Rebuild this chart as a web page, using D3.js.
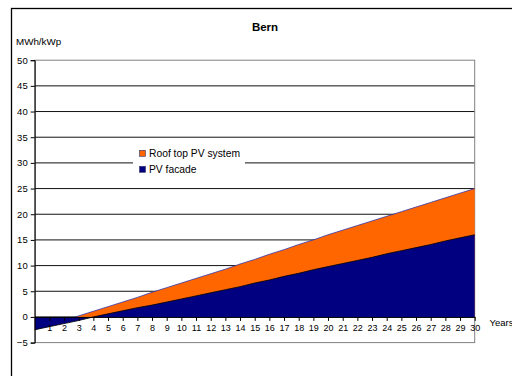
<!DOCTYPE html>
<html><head><meta charset="utf-8">
<script src="https://cdn.jsdelivr.net/npm/d3@7"></script>
<style>body{margin:0;background:#fff}svg{display:block}text{font-family:"Liberation Sans",Arial,sans-serif;fill:#000}</style>
</head><body>
<svg id="c" width="512" height="376"></svg>
<script>
const years = d3.range(0, 31);
const yearLabels = d3.range(1, 31);
const roofTop = [-2.5,-1.6,-0.7,0.2,1.1,2.0,2.9,3.8,4.8,5.7,6.6,7.5,8.4,9.3,10.3,11.2,12.2,13.1,14.1,15.0,16.0,16.9,17.8,18.7,19.6,20.5,21.4,22.3,23.2,24.1,25.0];
const facade = [-2.5,-1.9,-1.3,-0.7,0.0,0.6,1.2,1.8,2.3,2.9,3.5,4.1,4.7,5.3,5.9,6.6,7.2,7.9,8.5,9.2,9.8,10.4,11.0,11.6,12.3,12.9,13.5,14.1,14.8,15.4,16.0];
const yTicks = [-5,0,5,10,15,20,25,30,35,40,45,50];
const seriesNames = ["Roof top PV system","PV facade"];
const seriesColors = ["#ff6600","#000080"];

const svg = d3.select("#c");
const x = d3.scaleLinear().domain([0,30]).range([34.7,474.7]);
const y = d3.scaleLinear().domain([-5,50]).range([342.6,60.2]);

// outer chart border
svg.append("rect").attr("x",11.5).attr("y",8.5).attr("width",520).attr("height",400)
  .attr("fill","none").attr("stroke","#000").attr("stroke-width",1.3);

// gridlines
svg.append("g").selectAll("line").data(yTicks.filter(v=>v>-5 && v<50)).join("line")
  .attr("x1",x(0)).attr("x2",x(30)).attr("y1",d=>y(d)).attr("y2",d=>y(d))
  .attr("stroke","#111").attr("stroke-width",1);

// plot border
svg.append("rect").attr("x",x(0)).attr("y",y(50)).attr("width",x(30)-x(0)).attr("height",y(-5)-y(50))
  .attr("fill","none").attr("stroke","#808080").attr("stroke-width",1);

// areas
const area = vals => d3.area().x((d,i)=>x(years[i])).y0(y(0)).y1(d=>y(d))(vals);
const line = vals => d3.line().x((d,i)=>x(years[i])).y(d=>y(d))(vals);
svg.append("path").attr("d",area(roofTop)).attr("fill",seriesColors[0]);
svg.append("path").attr("d",line(roofTop)).attr("fill","none").attr("stroke","#3333aa").attr("stroke-width",0.8);
svg.append("path").attr("d",area(facade)).attr("fill",seriesColors[1]);
svg.append("path").attr("d",line(facade)).attr("fill","none").attr("stroke","#000").attr("stroke-width",0.8);

// legend
const lg = svg.append("g");
lg.append("rect").attr("x",133).attr("y",144).attr("width",112).attr("height",34).attr("fill","#fff");
seriesNames.forEach((n,i)=>{
  const cy = 153.3 + i*16;
  lg.append("rect").attr("x",139.5).attr("y",cy-3).attr("width",6).attr("height",6)
    .attr("fill",seriesColors[i]).attr("stroke","#333366").attr("stroke-width",0.6);
  lg.append("text").attr("x",149).attr("y",cy+3.7).attr("font-size","10.3px").text(n);
});

// y axis
const yAxis = d3.axisLeft(y).tickValues(yTicks).tickSize(4).tickPadding(3).tickFormat(d3.format("d"));
const gy = svg.append("g").attr("transform",`translate(${x(0)},0)`).call(yAxis);
gy.select(".domain").attr("stroke","#000");
gy.selectAll(".tick line").attr("stroke","#000");
gy.selectAll("text").attr("font-size","9.5px").attr("font-family","Liberation Sans, Arial, sans-serif").attr("fill","#000");

// x axis at zero
const xAxis = d3.axisBottom(x).tickValues(yearLabels).tickSize(4).tickPadding(4).tickSizeOuter(0).tickFormat(d3.format("d"));
const gx = svg.append("g").attr("transform",`translate(0,${y(0)})`).call(xAxis);
gx.select(".domain").attr("stroke","#000");
gx.selectAll(".tick line").attr("stroke","#000");
gx.selectAll("text").attr("font-size","9px").attr("font-family","Liberation Sans, Arial, sans-serif").attr("fill","#000");

// titles
svg.append("text").attr("x",265).attr("y",31).attr("text-anchor","middle").attr("font-size","11.5px").attr("font-weight","bold").text("Bern");
svg.append("text").attr("x",16).attr("y",45).attr("font-size","9.8px").text("MWh/kWp");
svg.append("text").attr("x",489.5).attr("y",326).attr("font-size","9.5px").text("Years");
</script>
</body></html>
